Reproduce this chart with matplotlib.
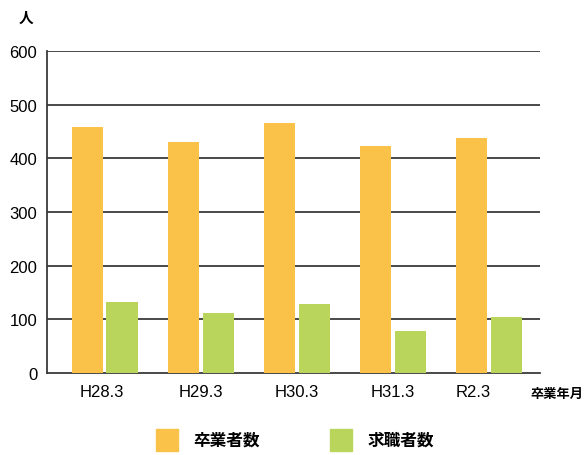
import matplotlib.pyplot as plt
from matplotlib.patches import Rectangle

plt.rcParams['font.family'] = ['Liberation Sans', 'Noto Sans CJK JP']

# ---------------------------------------
# Data
# ---------------------------------------
years = ["H28.3", "H29.3", "H30.3", "H31.3", "R2.3"]
graduates = [459, 431, 466, 423, 437]     # 卒業者数
job_seekers = [132, 112, 129, 78, 105]    # 求職者数
yticks = [0, 100, 200, 300, 400, 500, 600]

c_grad = "#FBC24A"
c_job = "#BAD55C"
grid_c = "#3a3a3a"

fig = plt.figure(figsize=(5.86, 4.56), dpi=100)
ax = fig.add_axes([0.080, 0.180, 0.841, 0.706])

x = list(range(len(years)))
w = 0.323
off = 0.182
ax.bar([i - off for i in x], graduates, width=w, color=c_grad, zorder=3)
ax.bar([i + off for i in x], job_seekers, width=w, color=c_job, zorder=3)

for t in yticks[1:]:
    ax.axhline(t, color=grid_c, lw=1.3, zorder=1)

ax.set_xlim(-0.6, 4.53)
ax.set_ylim(0, 600)
ax.set_yticks(yticks)
ax.set_yticklabels([str(t) for t in yticks], fontsize=12)
ax.tick_params(axis='y', length=0, pad=7)
lab_shift = [-0.03, 0, 0, 0, -0.16]
ax.set_xticks([i + s for i, s in zip(x, lab_shift)])
ax.set_xticklabels(years, fontsize=12)
ax.tick_params(axis='x', length=0, pad=8)

for s in ['top', 'right']:
    ax.spines[s].set_visible(False)
for s in ['left', 'bottom']:
    ax.spines[s].set_color(grid_c)
    ax.spines[s].set_linewidth(1.3)

fig.text(0.045, 0.958, "人", fontsize=10.5, fontweight='bold', ha='center', va='center')
fig.text(0.995, 0.133, "卒業年月", fontsize=9.5, fontweight='bold', ha='right', va='center')

# legend
fig.patches.append(Rectangle((156 / 586, 1 - 452 / 456), 22 / 586, 22 / 456,
                             transform=fig.transFigure, color=c_grad))
fig.text(193 / 586, 1 - 441 / 456, "卒業者数", fontsize=12, fontweight='bold', va='center')
fig.patches.append(Rectangle((330 / 586, 1 - 452 / 456), 22 / 586, 22 / 456,
                             transform=fig.transFigure, color=c_job))
fig.text(368 / 586, 1 - 441 / 456, "求職者数", fontsize=12, fontweight='bold', va='center')

fig.savefig("out.png", dpi=100)
